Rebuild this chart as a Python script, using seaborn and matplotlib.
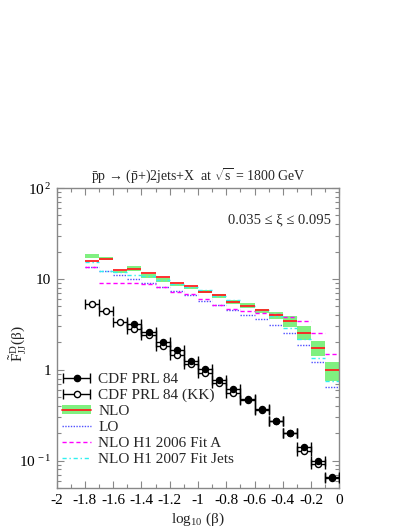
import numpy as np
import matplotlib
matplotlib.use("Agg")
import matplotlib.pyplot as plt
import seaborn as sns
from matplotlib.lines import Line2D
from matplotlib.patches import Patch
from matplotlib.container import ErrorbarContainer
from matplotlib.legend_handler import HandlerErrorbar, HandlerTuple
from matplotlib.ticker import MultipleLocator, FixedLocator, LogLocator, NullFormatter, FuncFormatter

# --- values ---
# theory bins (log10 beta bin centres, bin width 0.1)
bin_centers = [-1.75, -1.65, -1.55, -1.45, -1.35, -1.25, -1.15, -1.05, -0.95,
               -0.85, -0.75, -0.65, -0.55, -0.45, -0.35, -0.25, -0.15, -0.05]
nlo = [15.9, 16.8, 12.7, 13.0, 11.6, 10.6, 9.04, 8.31, 7.25,
       6.62, 5.59, 5.09, 4.60, 4.05, 3.48, 2.53, 1.72, 1.00]
nlo_low = [17.0, 16.2, 11.6, 12.2, 10.3, 9.27, 8.31, 7.80, 6.96,
           6.14, 5.31, 4.84, 4.26, 3.61, 2.94, 2.14, 1.43, 0.744]
nlo_high = [18.7, 17.6, 12.2, 13.9, 11.4, 10.3, 8.81, 8.15, 7.57,
            6.84, 5.88, 5.41, 4.72, 4.31, 3.92, 3.04, 2.10, 1.21]
lo = [13.7, 12.2, 11.2, 10.1, 9.04, 8.23, 7.38, 6.62, 5.77,
      5.20, 4.56, 4.05, 3.61, 3.10, 2.57, 1.88, 1.22, 0.65]
h1_2006 = [13.5, 9.1, 9.0, 9.04, 8.88, 8.23, 7.20, 6.90, 6.03,
           5.22, 4.65, 4.45, 4.23, 4.09, 3.85, 3.48, 2.53, 1.49]
h1_2007 = [15.4, 12.3, 12.0, 11.0, 10.9, 9.7, 8.88, 8.2, 7.57,
           6.51, 5.9, 5.0, 4.5, 3.9, 2.92, 2.19, 1.36, 0.744]

# CDF data
x_cdf = [-1.45, -1.35, -1.25, -1.15, -1.05, -0.95, -0.85, -0.75,
         -0.65, -0.55, -0.45, -0.35, -0.25, -0.15, -0.05]
y_cdf = [3.2, 2.62, 2.03, 1.66, 1.25, 1.03, 0.77, 0.62,
         0.48, 0.373, 0.275, 0.20, 0.142, 0.098, 0.066]
x_kk = [-1.75, -1.65, -1.55, -1.45, -1.35, -1.25, -1.15, -1.05, -0.95,
        -0.85, -0.75, -0.65, -0.55, -0.45, -0.35, -0.25, -0.15, -0.05]
y_kk = [5.27, 4.49, 3.39, 2.82, 2.40, 1.82, 1.44, 1.16, 0.93,
        0.71, 0.55, 0.47, 0.365, 0.27, 0.20, 0.127, 0.093, 0.065]

y_ticks = [0.1, 1, 10, 100]
y_ticklabels = ["10$^{\\,-1}$", "1", "10", "10$^{\\,2}$"]

GREEN = "#80f080"
GRAY = "#888888"

sns.set_style("ticks")
plt.rcParams['font.family'] = ['Liberation Serif', 'DejaVu Serif']
plt.rcParams['mathtext.fontset'] = 'custom'
plt.rcParams['mathtext.rm'] = 'Liberation Serif'
plt.rcParams['mathtext.it'] = 'Liberation Serif:italic'
plt.rcParams['mathtext.bf'] = 'Liberation Serif:bold'

fig = plt.figure(figsize=(4.07, 5.27), dpi=100)
ax = fig.add_axes([0.139, 0.074, 0.695, 0.569])
ax.set_yscale('log')

centers = np.array(bin_centers)
left = centers - 0.05
right = centers + 0.05

# NLO band + theory curves, one flat segment per bin
ax.bar(centers, np.array(nlo_high) - np.array(nlo_low), bottom=nlo_low, width=0.1,
       color=GREEN, linewidth=0, zorder=1)
ax.hlines(lo, left, right, colors="#5050ff", linestyles=(0, (1, 1)), lw=1, zorder=2)
ax.hlines(h1_2006, left, right, colors="#ff00ff", linestyles=(0, (3, 2)), lw=1, zorder=2)
ax.hlines(h1_2007, left, right, colors="#30f0f0", linestyles=(0, (3, 2, 1, 2)), lw=1, zorder=2)
ax.hlines(nlo, left, right, colors="#ff2020", lw=1.3, zorder=3)

# CDF points
eb_kk = ax.errorbar(x_kk, y_kk, xerr=0.05, fmt='none', ecolor='black',
                    elinewidth=1, capsize=3.5, capthick=1, zorder=4)
sns.scatterplot(x=x_kk, y=y_kk, ax=ax, marker='o', s=19, color='white',
                edgecolor='black', linewidth=1, zorder=5)
eb_cdf = ax.errorbar(x_cdf, y_cdf, xerr=0.05, fmt='none', ecolor='black',
                     elinewidth=1, capsize=3.5, capthick=1, zorder=6)
sns.scatterplot(x=x_cdf, y=y_cdf, ax=ax, marker='o', s=19, color='black',
                edgecolor='black', linewidth=1, zorder=7)

ax.set_xlim(-2, 0)
ax.set_ylim(0.05, 100)

# ticks, gnuplot style
ax.xaxis.set_major_locator(MultipleLocator(0.2))
ax.xaxis.set_minor_locator(MultipleLocator(0.1))
ax.xaxis.set_major_formatter(FuncFormatter(lambda v, p: "0" if abs(v) < 1e-9 else f"{v:g}"))
ax.yaxis.set_major_locator(FixedLocator(y_ticks))
ax.set_yticklabels(y_ticklabels)
ax.yaxis.set_minor_locator(LogLocator(base=10, subs=np.arange(2, 10)))
ax.yaxis.set_minor_formatter(NullFormatter())
ax.tick_params(which='both', direction='in', top=True, right=True, color=GRAY,
               labelsize=11, labelcolor='black')
ax.tick_params(which='major', length=5, width=0.8, pad=4)
ax.tick_params(which='minor', length=3, width=0.8)
for s in ax.spines.values():
    s.set_color(GRAY)
    s.set_linewidth(1)

ax.set_xlabel("log$_{10}$ (β)", fontsize=11, labelpad=3)
ax.set_ylabel("$\\tilde{\\mathrm{F}}^{\\mathrm{D}}_{\\mathrm{JJ}}$(β)", fontsize=11)
ax.yaxis.set_label_coords(-0.10, 0.48)
ax.set_title("$\\bar{\\mathrm{p}}$p → ($\\bar{\\mathrm{p}}$+)2jets+X  at $\\sqrt{\\mathrm{s}}$ = 1800 GeV",
             fontsize=10, pad=5)
ax.text(0.97, 0.895, "0.035 ≤ ξ ≤ 0.095", transform=ax.transAxes, ha='right', va='center',
        fontsize=10.5)

# legend
h_cdf = (eb_cdf, Line2D([], [], marker='o', ls='none', mfc='black', mec='black', ms=4.5))
h_kk = (eb_kk, Line2D([], [], marker='o', ls='none', mfc='white', mec='black', ms=4.5, mew=1))
h_nlo = (Patch(facecolor=GREEN, edgecolor='none'), Line2D([], [], color="#ff2020", lw=1.3))
h_lo = Line2D([], [], color="#5050ff", ls=(0, (1, 1)), lw=1)
h_a = Line2D([], [], color="#ff00ff", ls=(0, (3, 2)), lw=1)
h_j = Line2D([], [], color="#30f0f0", ls=(0, (3, 2, 1, 2)), lw=1)
ax.legend([h_cdf, h_kk, h_nlo, h_lo, h_a, h_j],
          ["CDF PRL 84", "CDF PRL 84 (KK)", "NLO", "LO", "NLO H1 2006 Fit A", "NLO H1 2007 Fit Jets"],
          handler_map={ErrorbarContainer: HandlerErrorbar(xerr_size=0.9), tuple: HandlerTuple(ndivide=1)},
          loc='upper left', bbox_to_anchor=(0.02, 0.385), frameon=False, fontsize=11,
          borderpad=0, borderaxespad=0, labelspacing=0.2, handlelength=1.9,
          handletextpad=0.45, handleheight=0.55)

fig.savefig("out.png", dpi=100)
